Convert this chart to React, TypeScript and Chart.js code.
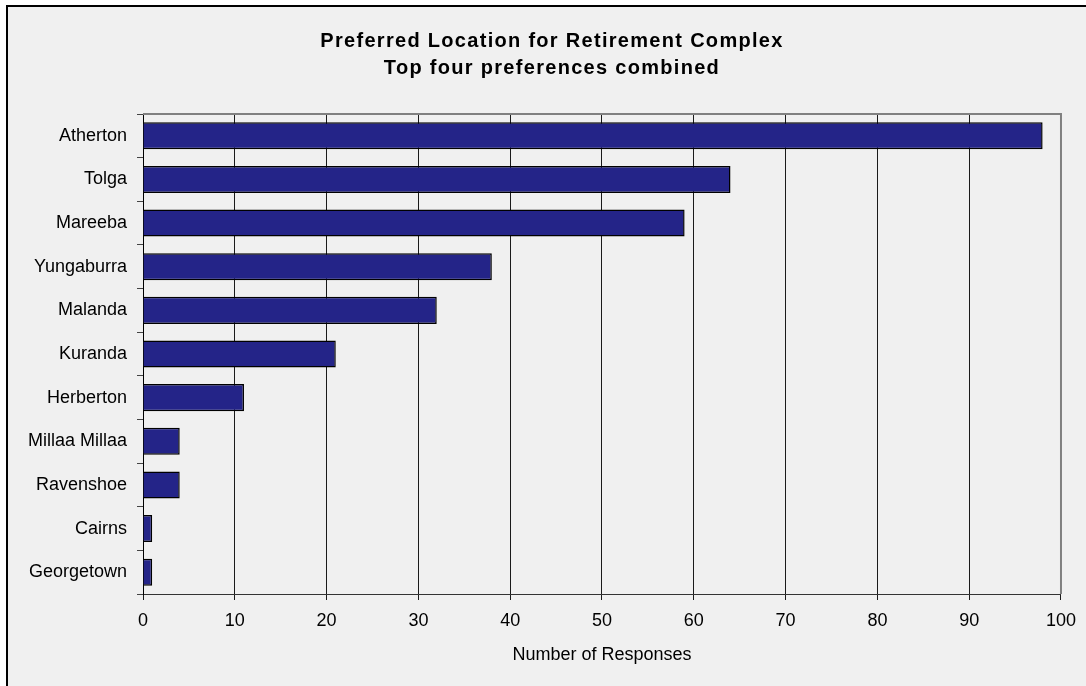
import React, { useEffect, useRef } from "react";
import { Chart, registerables } from "chart.js";

Chart.register(...registerables);

const categories = [
  "Atherton",
  "Tolga",
  "Mareeba",
  "Yungaburra",
  "Malanda",
  "Kuranda",
  "Herberton",
  "Millaa Millaa",
  "Ravenshoe",
  "Cairns",
  "Georgetown",
];
const responses = [98, 64, 59, 38, 32, 21, 11, 4, 4, 1, 1];
const titleLines = [
  "Preferred Location for Retirement Complex",
  "Top four preferences combined",
];
const xAxisTitle = "Number of Responses";
const xMin = 0;
const xMax = 100;
const xStep = 10;

const FONT = '"Liberation Sans", Arial, Helvetica, sans-serif';

export default function App() {
  const ref = useRef<HTMLCanvasElement>(null);

  useEffect(() => {
    const canvas = ref.current;
    if (!canvas) return;

    const titlePlugin = {
      id: "customTitle",
      afterDraw(chart: any) {
        const ctx = chart.ctx as CanvasRenderingContext2D;
        ctx.save();
        ctx.font = `bold 20px ${FONT}`;
        (ctx as any).letterSpacing = "1.3px";
        ctx.fillStyle = "#000";
        ctx.textAlign = "center";
        ctx.textBaseline = "alphabetic";
        ctx.fillText(titleLines[0], 544, 40);
        ctx.fillText(titleLines[1], 544, 67);
        ctx.restore();
      },
    };

    const framePlugin = {
      id: "frame",
      afterDatasetsDraw(chart: any) {
        const { ctx, chartArea: a } = chart;
        ctx.save();
        ctx.strokeStyle = "#808080";
        ctx.lineWidth = 2;
        ctx.beginPath();
        ctx.moveTo(a.left, a.top);
        ctx.lineTo(a.right, a.top);
        ctx.lineTo(a.right, a.bottom);
        ctx.stroke();
        ctx.restore();
      },
    };

    const tickFont = { family: FONT, size: 18 };

    const chart = new Chart(canvas, {
      type: "bar",
      data: {
        labels: categories,
        datasets: [
          {
            data: responses,
            backgroundColor: "#242488",
            borderColor: "#000",
            borderWidth: 1.5,
            barPercentage: 0.62,
            categoryPercentage: 1,
          },
        ],
      },
      options: {
        indexAxis: "y",
        responsive: false,
        animation: false,
        events: [],
        layout: { padding: { top: 107, right: 23, bottom: 0, left: 0 } },
        plugins: {
          legend: { display: false },
          title: { display: false },
          tooltip: { enabled: false },
        },
        scales: {
          x: {
            type: "linear",
            position: "bottom",
            min: xMin,
            max: xMax,
            ticks: {
              stepSize: xStep,
              color: "#000",
              font: tickFont,
              padding: 10,
              maxRotation: 0,
            },
            grid: { color: "#1a1a1a", lineWidth: 1, tickLength: 6, drawTicks: true },
            border: { color: "#333", width: 1 },
            title: {
              display: true,
              text: xAxisTitle,
              color: "#000",
              font: tickFont,
              padding: { top: 0, bottom: 20 },
            },
            afterFit(scale: any) {
              scale.height = 92;
            },
          },
          y: {
            type: "category",
            ticks: { color: "#000", font: tickFont, padding: 10 },
            grid: {
              offset: true,
              drawOnChartArea: false,
              tickLength: 6,
              color: "#444",
            },
            border: { color: "#000", width: 1 },
            afterFit(scale: any) {
              scale.width = 135;
            },
          },
        },
      } as any,
      plugins: [framePlugin, titlePlugin],
    });

    return () => chart.destroy();
  }, []);

  return (
    <div
      style={{
        position: "fixed",
        left: 0,
        top: 0,
        width: 1086,
        height: 686,
        background: "#fff",
        overflow: "hidden",
      }}
    >
      <div
        style={{
          position: "absolute",
          left: 6,
          top: 5,
          width: 1078,
          height: 679,
          borderLeft: "2px solid #000",
          borderTop: "2px solid #000",
          background: "#f0f0f0",
        }}
      >
        <canvas
          ref={ref}
          width={1078}
          height={679}
          style={{ display: "block", width: 1078, height: 679 }}
        />
      </div>
    </div>
  );
}
